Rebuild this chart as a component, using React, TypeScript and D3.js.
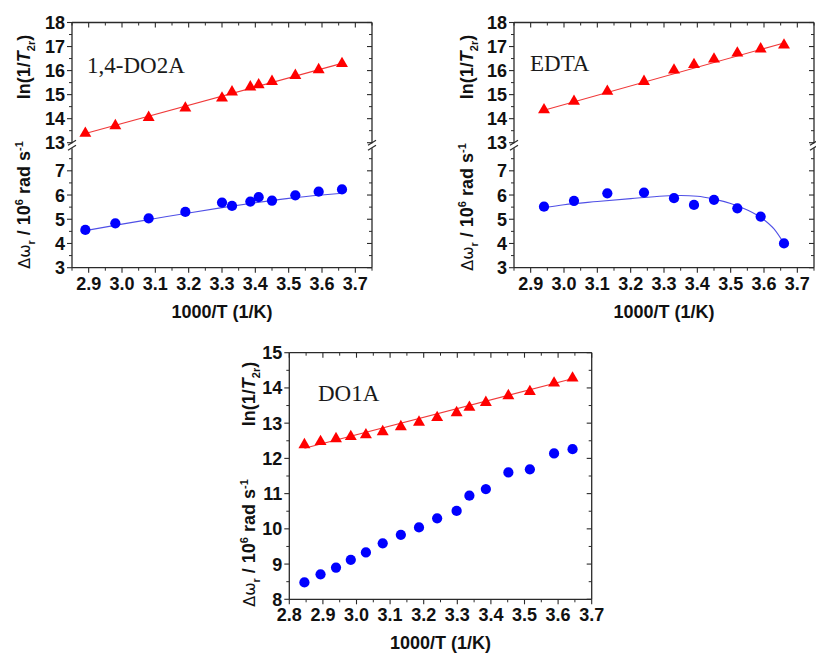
import React from 'react';
import * as d3 from 'd3';

// ---------- data ----------
const do2aX = [2.89, 2.98, 3.08, 3.19, 3.30, 3.33, 3.385, 3.41, 3.45, 3.52, 3.59, 3.66];
const do2aLn = [13.45, 13.77, 14.11, 14.5, 14.92, 15.17, 15.38, 15.47, 15.61, 15.86, 16.1, 16.35];
const do2aDw = [4.56, 4.83, 5.04, 5.30, 5.69, 5.55, 5.73, 5.91, 5.77, 5.99, 6.14, 6.23];
const do2aFitLnX = [2.89, 3.66];
const do2aFitLnY = [13.38, 16.3];
const do2aFitDwX = [2.89, 3.0, 3.1, 3.2, 3.3, 3.4, 3.5, 3.6, 3.66];
const do2aFitDwY = [4.53, 4.8, 5.03, 5.26, 5.48, 5.68, 5.86, 6.0, 6.07];

const edtaX = [2.94, 3.03, 3.13, 3.24, 3.33, 3.39, 3.45, 3.52, 3.59, 3.66];
const edtaLn = [14.43, 14.78, 15.2, 15.61, 16.08, 16.31, 16.54, 16.79, 16.96, 17.12];
const edtaDw = [5.52, 5.76, 6.07, 6.1, 5.87, 5.59, 5.8, 5.45, 5.11, 4.0];
const edtaFitLnX = [2.94, 3.66];
const edtaFitLnY = [14.35, 17.15];
const edtaFitDwX = [2.94, 3.0, 3.1, 3.2, 3.3, 3.35, 3.4, 3.45, 3.5, 3.55, 3.6, 3.63, 3.66];
const edtaFitDwY = [5.48, 5.6, 5.73, 5.85, 5.96, 5.98, 5.95, 5.83, 5.65, 5.38, 4.98, 4.6, 4.0];

const do1aX = [2.845, 2.893, 2.939, 2.983, 3.028, 3.078, 3.132, 3.186, 3.24, 3.298, 3.336, 3.385, 3.452, 3.516, 3.588, 3.643];
const do1aLn = [12.43, 12.52, 12.6, 12.66, 12.71, 12.8, 12.94, 13.07, 13.2, 13.34, 13.49, 13.63, 13.82, 13.94, 14.18, 14.32];
const do1aDw = [8.48, 8.71, 8.9, 9.12, 9.33, 9.59, 9.83, 10.04, 10.3, 10.51, 10.94, 11.13, 11.6, 11.69, 12.14, 12.26];
const do1aFitLnX = [2.845, 3.645];
const do1aFitLnY = [12.29, 14.27];

const topXTicks = [2.9, 3.0, 3.1, 3.2, 3.3, 3.4, 3.5, 3.6, 3.7];
const bottomXTicks = [2.8, 2.9, 3.0, 3.1, 3.2, 3.3, 3.4, 3.5, 3.6, 3.7];
const upperYTicks = [13, 14, 15, 16, 17, 18];
const lowerYTicks = [3, 4, 5, 6, 7];
const do1aYTicks = [8, 9, 10, 11, 12, 13, 14, 15];

// ---------- styles ----------
const SANS = "'Liberation Sans', Arial, sans-serif";
const SERIF = "'Liberation Serif', 'Times New Roman', serif";
const AXIS = '#2a2a2a';
const RED = '#ff0000';
const BLUE = '#0000ff';
const RED_LINE = '#f03a3a';
const BLUE_LINE = '#5050e6';

type Seg = { scale: d3.ScaleLinear<number, number>; major: number[]; minorStep: number };
type Pts = { xs: number[]; ys: number[]; seg: number; kind: 'tri' | 'circ' };
type Fit = { xs: number[]; ys: number[]; seg: number; color: string; smooth: boolean };

type PanelProps = {
  x: d3.ScaleLinear<number, number>;
  xTicks: number[];
  top: number; bottom: number; left: number; right: number;
  segs: Seg[];
  breakY?: number;
  pts: Pts[];
  fits: Fit[];
  label: string; labelX: number; labelY: number;
  lnTitleX: number; lnTitleY: number; dwTitleY: number;
};

const triPath = d3.symbol().type(d3.symbolTriangle).size(62)() as string;
const circPath = d3.symbol().type(d3.symbolCircle).size(82)() as string;

function minorValues(domain: number[], step: number, majors: number[]) {
  const lo = Math.min(domain[0], domain[1]);
  const hi = Math.max(domain[0], domain[1]);
  const out: number[] = [];
  const start = Math.ceil(lo / step - 1e-6);
  const end = Math.floor(hi / step + 1e-6);
  for (let i = start; i <= end; i++) {
    const v = +(i * step).toFixed(4);
    if (!majors.some((m) => Math.abs(m - v) < 1e-6)) out.push(v);
  }
  return out;
}

function Panel(p: PanelProps) {
  const { x, top, bottom, left, right } = p;
  const xDom = x.domain();
  const xMinor = minorValues(xDom, 0.05, p.xTicks);
  const spineY: [number, number][] = p.breakY
    ? [[top, p.breakY - 2.5], [p.breakY + 2.5, bottom]]
    : [[top, bottom]];
  const brk = (cx: number) =>
    p.breakY ? (
      <g key={'b' + cx}>
        <line x1={cx - 4} y1={p.breakY - 0.5} x2={cx + 4} y2={p.breakY - 5.5} stroke={AXIS} strokeWidth={1.2} />
        <line x1={cx - 4} y1={p.breakY + 4.5} x2={cx + 4} y2={p.breakY - 0.5} stroke={AXIS} strokeWidth={1.2} />
      </g>
    ) : null;

  const midX = (left + right) / 2;

  return (
    <g>
      {/* fits */}
      {p.fits.map((f, i) => {
        const s = p.segs[f.seg].scale;
        const line = d3
          .line<number>()
          .x((_, j) => x(f.xs[j]))
          .y((d) => s(d))
          .curve(f.smooth ? d3.curveMonotoneX : d3.curveLinear);
        return <path key={'f' + i} d={line(f.ys) || ''} fill="none" stroke={f.color} strokeWidth={1.1} />;
      })}
      {/* points */}
      {p.pts.map((s, i) =>
        s.xs.map((xv, j) => {
          const yv = p.segs[s.seg].scale(s.ys[j]);
          return s.kind === 'tri' ? (
            <path key={`p${i}-${j}`} d={triPath} transform={`translate(${x(xv)},${yv + 1.5})`} fill={RED} />
          ) : (
            <path key={`p${i}-${j}`} d={circPath} transform={`translate(${x(xv)},${yv})`} fill={BLUE} />
          );
        })
      )}
      {/* spines */}
      <line x1={left} x2={right} y1={top} y2={top} stroke={AXIS} strokeWidth={1.3} />
      <line x1={left} x2={right} y1={bottom} y2={bottom} stroke={AXIS} strokeWidth={1.3} />
      {spineY.map(([a, b], i) => (
        <g key={'s' + i}>
          <line x1={left} x2={left} y1={a} y2={b} stroke={AXIS} strokeWidth={1.3} />
          <line x1={right} x2={right} y1={a} y2={b} stroke={AXIS} strokeWidth={1.3} />
        </g>
      ))}
      {brk(left)}
      {brk(right)}
      {/* x ticks */}
      {p.xTicks.map((t) => (
        <g key={'xt' + t}>
          <line x1={x(t)} x2={x(t)} y1={bottom} y2={bottom + 5} stroke={AXIS} strokeWidth={1.1} />
          <line x1={x(t)} x2={x(t)} y1={top} y2={top + 5} stroke={AXIS} strokeWidth={1.1} />
          <text x={x(t)} y={bottom + 22} textAnchor="middle" fontFamily={SANS} fontWeight="bold" fontSize={18} fill="#111">
            {t.toFixed(1)}
          </text>
        </g>
      ))}
      {xMinor.map((t) => (
        <g key={'xm' + t}>
          <line x1={x(t)} x2={x(t)} y1={bottom} y2={bottom + 3} stroke={AXIS} strokeWidth={1} />
          <line x1={x(t)} x2={x(t)} y1={top} y2={top + 3} stroke={AXIS} strokeWidth={1} />
        </g>
      ))}
      {/* y ticks */}
      {p.segs.map((sg, si) => {
        const mins = minorValues(sg.scale.domain(), sg.minorStep, sg.major);
        return (
          <g key={'ys' + si}>
            {sg.major.map((t) => (
              <g key={'yt' + t}>
                <line x1={left - 5} x2={left} y1={sg.scale(t)} y2={sg.scale(t)} stroke={AXIS} strokeWidth={1.1} />
                <line x1={right - 5} x2={right} y1={sg.scale(t)} y2={sg.scale(t)} stroke={AXIS} strokeWidth={1.1} />
                <text x={left - 7} y={sg.scale(t)} dy="0.36em" textAnchor="end" fontFamily={SANS} fontWeight="bold" fontSize={18} fill="#111">
                  {t}
                </text>
              </g>
            ))}
            {mins.map((t) => (
              <g key={'ym' + t}>
                <line x1={left - 3} x2={left} y1={sg.scale(t)} y2={sg.scale(t)} stroke={AXIS} strokeWidth={1} />
                <line x1={right - 3} x2={right} y1={sg.scale(t)} y2={sg.scale(t)} stroke={AXIS} strokeWidth={1} />
              </g>
            ))}
          </g>
        );
      })}
      {/* x title */}
      <text x={midX} y={bottom + 50} textAnchor="middle" fontFamily={SANS} fontWeight="bold" fontSize={18} fill="#111">
        1000/T (1/K)
      </text>
      {/* y titles */}
      <text
        transform={`translate(${p.lnTitleX},${p.lnTitleY}) rotate(-90)`}
        textAnchor="middle"
        dy="0.35em"
        fontFamily={SANS}
        fontWeight="bold"
        fontSize={18}
        fill="#111"
      >
        <tspan>ln(1/</tspan>
        <tspan fontStyle="italic">T</tspan>
        <tspan fontSize={11} dy={5}>2r</tspan>
        <tspan dy={-5}>)</tspan>
      </text>
      <text
        transform={`translate(${p.lnTitleX},${p.dwTitleY}) rotate(-90)`}
        textAnchor="middle"
        dy="0.35em"
        fontFamily={SANS}
        fontWeight="bold"
        fontSize={18}
        fill="#111"
      >
        <tspan fontWeight="normal" fontFamily="'DejaVu Sans', sans-serif" fontSize={16}>Δω</tspan>
        <tspan fontSize={11} dy={5}>r</tspan>
        <tspan dy={-5}> / 10</tspan>
        <tspan fontSize={11} dy={-7}>6</tspan>
        <tspan dy={7}> rad s</tspan>
        <tspan fontSize={11} dy={-7}>-1</tspan>
      </text>
      {/* panel label */}
      <text x={p.labelX} y={p.labelY} fontFamily={SERIF} fontSize={23} fill="#1a1a1a">
        {p.label}
      </text>
    </g>
  );
}

export default function App() {
  // top-left
  const xTL = d3.scaleLinear().domain([2.85, 3.75]).range([72, 372]);
  const xTR = d3.scaleLinear().domain([2.85, 3.75]).range([514, 814]);
  const yUp = d3.scaleLinear().domain([13, 18]).range([142.7, 22.5]);
  const yLo = d3.scaleLinear().domain([3, 7.9]).range([267.7, 149]);
  const segsTop: Seg[] = [
    { scale: yUp, major: upperYTicks, minorStep: 0.5 },
    { scale: yLo, major: lowerYTicks, minorStep: 0.5 },
  ];
  const xB = d3.scaleLinear().domain([2.8, 3.7]).range([289.3, 591.7]);
  const yB = d3.scaleLinear().domain([8, 15]).range([599.3, 352.7]);

  return (
    <svg width={816} height={654} style={{ position: 'absolute', left: 0, top: 0, background: '#fff' }}>
      <rect width={816} height={654} fill="#fff" />
      <Panel
        x={xTL}
        xTicks={topXTicks}
        top={22.5}
        bottom={267.7}
        left={72}
        right={372}
        segs={segsTop}
        breakY={145.8}
        pts={[
          { xs: do2aX, ys: do2aLn, seg: 0, kind: 'tri' },
          { xs: do2aX, ys: do2aDw, seg: 1, kind: 'circ' },
        ]}
        fits={[
          { xs: do2aFitLnX, ys: do2aFitLnY, seg: 0, color: RED_LINE, smooth: false },
          { xs: do2aFitDwX, ys: do2aFitDwY, seg: 1, color: BLUE_LINE, smooth: true },
        ]}
        label="1,4-DO2A"
        labelX={87}
        labelY={73}
        lnTitleX={24}
        lnTitleY={67}
        dwTitleY={205}
      />
      <Panel
        x={xTR}
        xTicks={topXTicks}
        top={22.5}
        bottom={267.7}
        left={514}
        right={814}
        segs={segsTop}
        breakY={145.8}
        pts={[
          { xs: edtaX, ys: edtaLn, seg: 0, kind: 'tri' },
          { xs: edtaX, ys: edtaDw, seg: 1, kind: 'circ' },
        ]}
        fits={[
          { xs: edtaFitLnX, ys: edtaFitLnY, seg: 0, color: RED_LINE, smooth: false },
          { xs: edtaFitDwX, ys: edtaFitDwY, seg: 1, color: BLUE_LINE, smooth: true },
        ]}
        label="EDTA"
        labelX={530}
        labelY={71}
        lnTitleX={467}
        lnTitleY={67}
        dwTitleY={207}
      />
      <Panel
        x={xB}
        xTicks={bottomXTicks}
        top={352.7}
        bottom={599.3}
        left={289.3}
        right={591.7}
        segs={[{ scale: yB, major: do1aYTicks, minorStep: 0.5 }]}
        pts={[
          { xs: do1aX, ys: do1aLn, seg: 0, kind: 'tri' },
          { xs: do1aX, ys: do1aDw, seg: 0, kind: 'circ' },
        ]}
        fits={[{ xs: do1aFitLnX, ys: do1aFitLnY, seg: 0, color: RED_LINE, smooth: false }]}
        label="DO1A"
        labelX={318}
        labelY={401}
        lnTitleX={249}
        lnTitleY={394}
        dwTitleY={543}
      />
    </svg>
  );
}
